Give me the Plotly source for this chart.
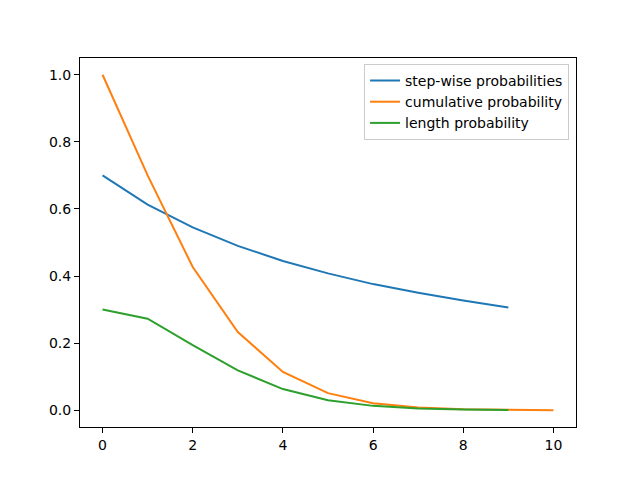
import plotly.graph_objects as go

# Data
steps = [0, 1, 2, 3, 4, 5, 6, 7, 8, 9]
step_prob = [0.700, 0.613, 0.545, 0.490, 0.445, 0.408, 0.376, 0.350, 0.327, 0.306]

cum_x = [0, 1, 2, 3, 4, 5, 6, 7, 8, 9, 10]
cum_prob = [1.000, 0.700, 0.427, 0.233, 0.114, 0.051, 0.021, 0.008, 0.003, 0.001, 0.0003]

len_prob = [0.300, 0.273, 0.194, 0.119, 0.063, 0.030, 0.013, 0.005, 0.002, 0.0006]

fig = go.Figure()

fig.add_trace(go.Scatter(x=steps, y=step_prob, mode="lines",
                         name="step-wise probabilities",
                         line=dict(color="#1f77b4", width=2)))
fig.add_trace(go.Scatter(x=cum_x, y=cum_prob, mode="lines",
                         name="cumulative probability",
                         line=dict(color="#ff7f0e", width=2)))
fig.add_trace(go.Scatter(x=steps, y=len_prob, mode="lines",
                         name="length probability",
                         line=dict(color="#2ca02c", width=2)))

axis_style = dict(
    showgrid=False,
    zeroline=False,
    showline=True,
    linecolor="black",
    linewidth=1,
    mirror=True,
    ticks="outside",
    ticklen=5,
    tickcolor="black",
)

fig.update_xaxes(range=[-0.5, 10.5], tickvals=[0, 2, 4, 6, 8, 10], **axis_style)
fig.update_yaxes(range=[-0.05, 1.05], tickvals=[0, 0.2, 0.4, 0.6, 0.8, 1.0],
                 tickformat=".1f", **axis_style)

# page body has an 8px margin, so margins are shifted to compensate
fig.update_layout(
    width=640,
    height=480,
    margin=dict(l=72, r=72, t=50, b=61),
    plot_bgcolor="white",
    paper_bgcolor="white",
    font=dict(family="DejaVu Sans", size=14, color="black"),
    legend=dict(
        x=0.986, y=0.984, xanchor="right", yanchor="top",
        bordercolor="#cccccc", borderwidth=1,
        bgcolor="rgba(255,255,255,0.8)",
        font=dict(size=14),
    ),
)

fig.write_html("out.html")
